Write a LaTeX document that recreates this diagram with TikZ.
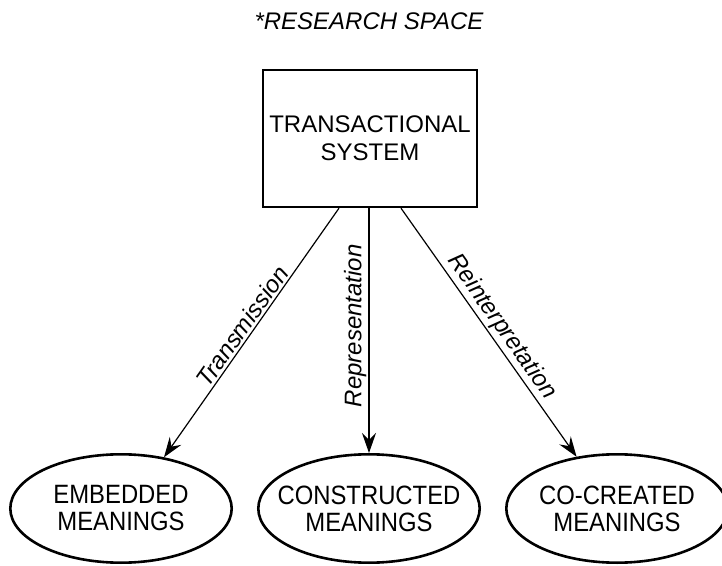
\documentclass[tikz,border=0pt]{standalone}
\usepackage{fontspec}
\setmainfont{Liberation Sans}
\newfontfamily\narrowsans[FakeStretch=0.9]{Liberation Sans}
\usetikzlibrary{arrows.meta,shapes.geometric}
\begin{document}
\begin{tikzpicture}[x=1pt,y=1pt,
  txt/.style={font=\fontsize{24}{28}\selectfont, align=center},
  sysbox/.style={draw, line width=2.4pt, minimum width=214pt, minimum height=137pt, inner sep=0pt, txt},
  meaning/.style={ellipse, minimum width=224pt, minimum height=111pt, inner sep=0pt, outer sep=0pt,
    font=\narrowsans\fontsize{26.5}{27}\selectfont, align=center},
  rim/.style={line width=2.6pt},
  flowtip/.tip={Stealth[length=20pt, width=14pt, inset=7pt]},
  flow/.style={line width=1.2pt, -{flowtip}},
  backflow/.style={line width=1.2pt, {flowtip}-},
  flowlabel/.style={sloped, above, inner sep=2pt, font=\fontsize{24}{27}\selectfont\itshape}
]
\useasboundingbox (0,0) rectangle (722,565);

% heading
\node[anchor=base, font=\fontsize{24}{27}\selectfont\itshape] (title) at (369,535) {*RESEARCH SPACE};

% central system
\node[sysbox] (sys) at (370,426.5) {TRANSACTIONAL\\SYSTEM};

% outcomes, with their outlines drawn at a fixed size
\node[meaning] (emb) at (121,56.5) {EMBEDDED\\MEANINGS};
\node[meaning] (con) at (369,56.5) {CONSTRUCTED\\MEANINGS};
\node[meaning] (cre) at (617,56.5) {CO-CREATED\\MEANINGS};
\foreach \n in {emb,con,cre}
  \draw[rim] (\n.center) ellipse [x radius=110.7pt, y radius=54.2pt];

% connectors
\draw[flow] ([xshift=-31pt]sys.south) -- (emb.50) node[flowlabel, pos=0.5] {Transmission};
\draw[backflow] (con.north) -- ([xshift=-1pt]sys.south) node[flowlabel, pos=0.52] {Representation};
\draw[flow] ([xshift=31pt]sys.south) -- (cre.128) node[flowlabel, pos=0.51] {Reinterpretation};
\end{tikzpicture}
\end{document}
